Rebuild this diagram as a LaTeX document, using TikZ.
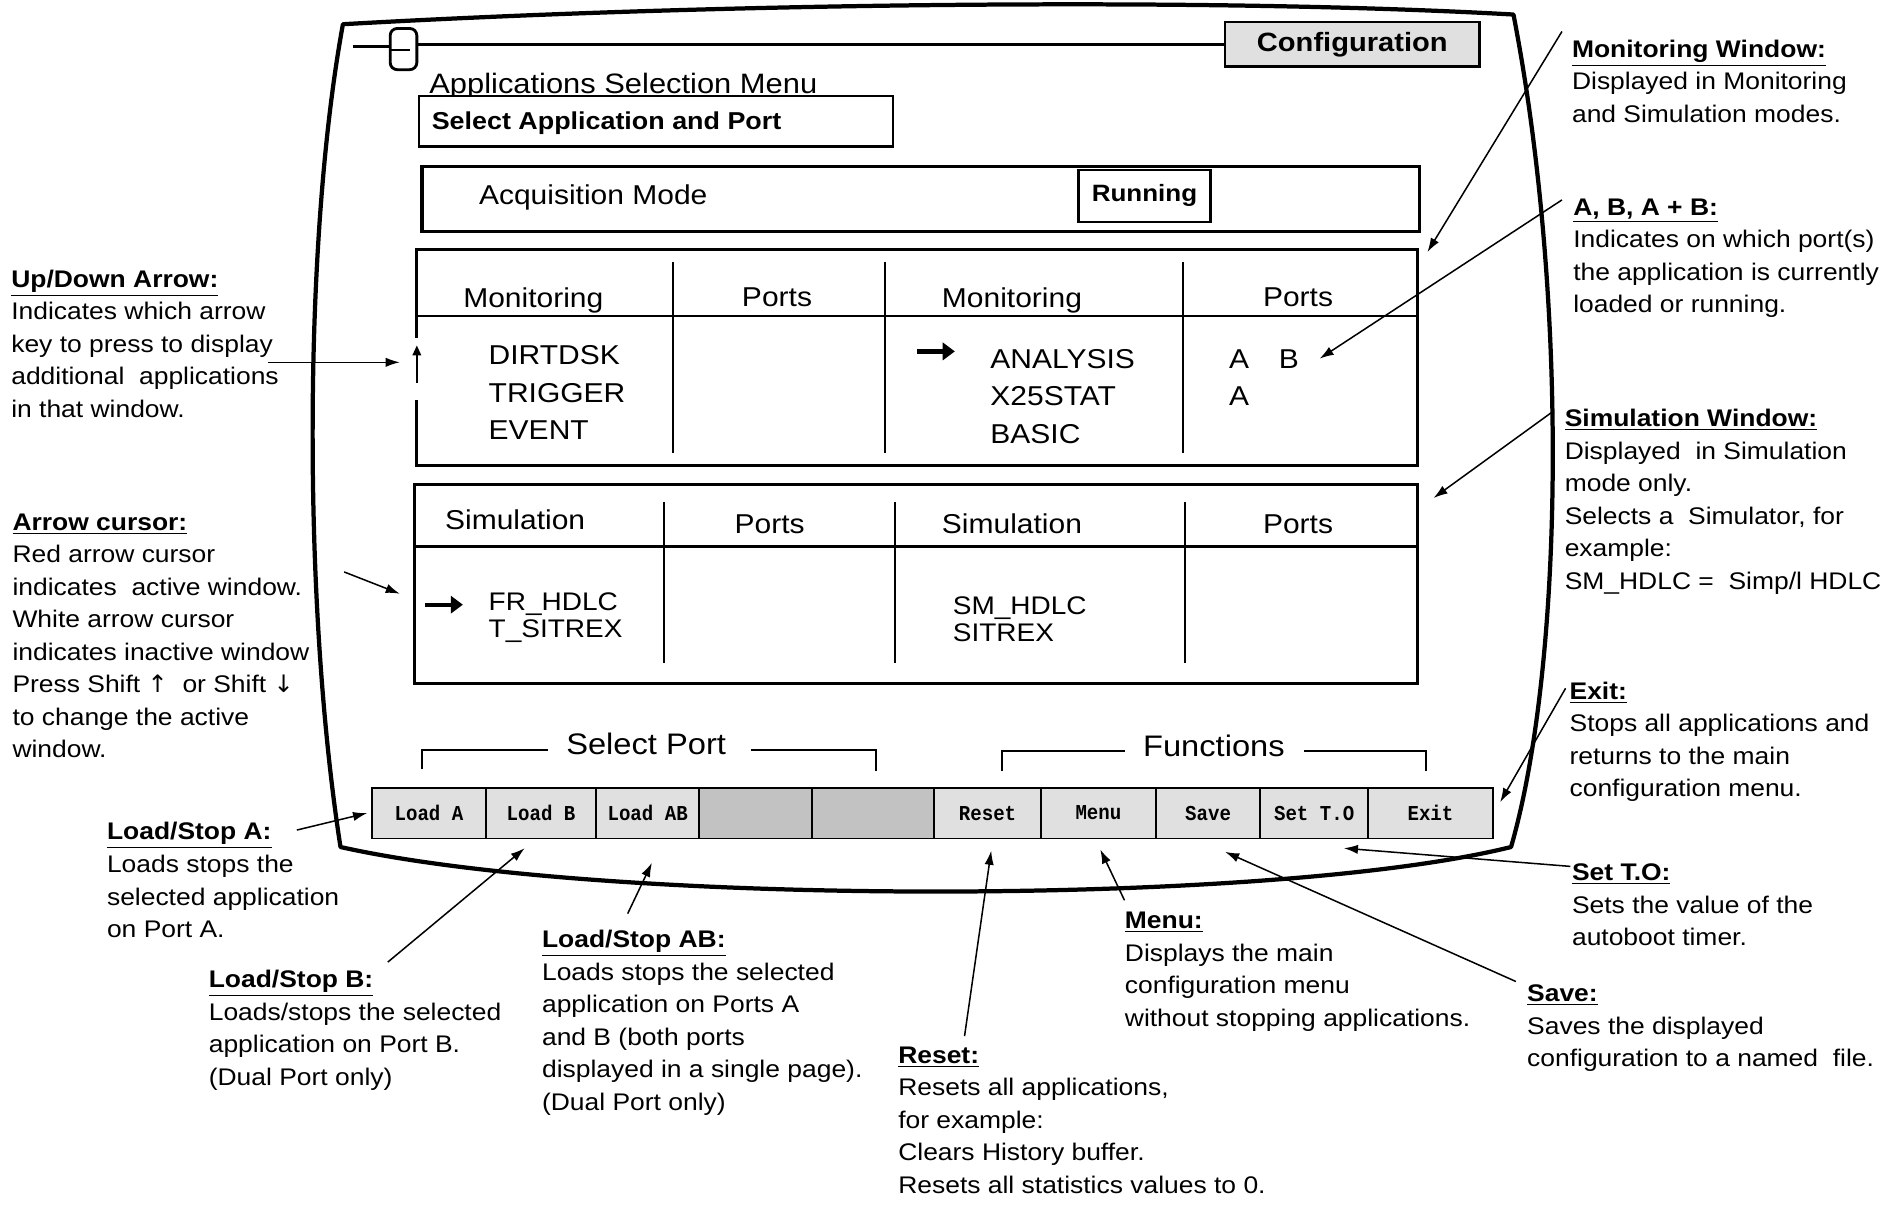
\documentclass[tikz,border=0pt]{standalone}
\usepackage{fontspec}
\setmainfont{Liberation Sans}[FakeStretch=1.1]
\newfontfamily\keyfont{Liberation Mono}[FakeStretch=0.9]
\newfontfamily\symfont{DejaVu Sans}
\usetikzlibrary{arrows.meta}

\newcommand\fsz[2]{\fontsize{#1}{#2}\selectfont}

\tikzset{
  outline/.style={line width=2.1pt, line join=round},
  panel/.style={line width=1.6pt},
  rule/.style={line width=1pt},
  callout/.style={line width=0.75pt, -{Latex[length=7pt,width=4.6pt]}},
  cursor/.style={line width=2.1pt, -{Triangle[length=6pt,width=8.5pt]}},
  note/.style={anchor=north west, inner sep=0pt, align=left, font=\fsz{11.9}{16.1}},
  scrtext/.style={anchor=base west, inner sep=0pt, font=\fsz{13.5}{16}},
  simitem/.style={anchor=base west, inner sep=0pt, font=\fsz{12.6}{15}},
  keycap/.style={draw, line width=0.9pt, fill=black!12, inner sep=0pt, outer sep=0pt,
     anchor=west, minimum height=25.2pt, font=\keyfont\bfseries\fsz{10.5}{12}},
  blankkey/.style={keycap, fill=black!24},
}

\begin{document}
\begin{tikzpicture}[x=0.6pt,y=-0.6pt]
\fill[white] (0,0) rectangle (1568,996);
\useasboundingbox (0,0) rectangle (1568,996);

% ---------- monitor outline ----------
\draw[outline] (283,20) .. controls (600,2) and (1000,-2) .. (1249,12)
   .. controls (1295,250) and (1290,550) .. (1247,699)
   .. controls (1050,748) and (500,748) .. (281,699)
   .. controls (250,500) and (250,200) .. cycle;

% ---------- title bar ----------
\node[draw, line width=1.2pt, fill=black!12, minimum width=126pt, minimum height=22.2pt,
      inner sep=0pt, font=\bfseries\fsz{13.1}{15}] (config) at (1116,36.5) {Configuration};
\node[draw, line width=1.4pt, rounded corners=3.5pt, minimum width=13.2pt, minimum height=20.4pt,
      inner sep=0pt, outer sep=0pt] (knob) at (333,40.5) {};
\coordinate (barstart) at (291,38.5);
\draw[line width=1.4pt] (barstart) -- (barstart -| knob.west);
\draw[line width=1.4pt] (knob.east |- config.west) -- (config.west);
\draw[line width=1.2pt] (knob.west) ++(0,1) -- ++(16,0);

% ---------- menu heading ----------
\node[anchor=base west, inner sep=0pt, font=\fsz{13.9}{16}] (menutitle) at (354,77) {Applications Selection Menu};
\node[draw, fill=white, line width=1.1pt, anchor=north west, minimum width=234.6pt,
      minimum height=25.2pt, inner sep=0pt] (selbox) at (345,78) {};
\node[anchor=base west, inner sep=0pt, font=\bfseries\fsz{12.1}{14}] (seltext) at (356,107) {Select Application and Port};

% ---------- acquisition mode ----------
\node[draw, panel, anchor=north west, minimum width=493.8pt, minimum height=32.4pt,
      inner sep=0pt] (acqbox) at (347,136) {};
\node[scrtext] (acqtext) at (395,169) {Acquisition Mode};
\node[draw, line width=1.1pt, minimum width=65.4pt, minimum height=25.8pt, inner sep=0pt,
      font=\bfseries\fsz{11.7}{14}] (running) at (944.5,161.5) {Running};

% ---------- monitoring window ----------
\coordinate (monA) at (344,279);
\coordinate (monB) at (344,330);
\draw[panel] (monA) -- (344,206) -- (1170,206) -- (1170,384) -- (344,384) -- (monB);
\draw[rule] (344,261) -- (1170,261);
\foreach \x in {555,730,976} \draw[rule] (\x,216) -- (\x,374);
\draw[line width=1pt, -{Triangle[length=5pt,width=4.2pt]}] (344,316) -- (344,285);
\node[scrtext] (mh1) at (382,254) {Monitoring};
\node[scrtext] (mh2) at (612,253) {Ports};
\node[scrtext] (mh3) at (777,254) {Monitoring};
\node[scrtext] (mh4) at (1042,253) {Ports};
\node[scrtext] (m1) at (403,301) {DIRTDSK};
\node[scrtext] (m2) at (403,332) {TRIGGER};
\node[scrtext] (m3) at (403,363) {EVENT};
\node[scrtext] (m4) at (817,304) {ANALYSIS};
\node[scrtext] (m5) at (817,335) {X25STAT};
\node[scrtext] (m6) at (817,366) {BASIC};
\node[scrtext] (pA1) at (1014,304) {A};
\node[scrtext] (pB1) at (1055,304) {B};
\node[scrtext] (pA2) at (1014,335) {A};
\coordinate (mcurA) at (757,290);
\coordinate (mcurB) at (788,290);
\draw[cursor] (mcurA) -- (mcurB);

% ---------- simulation window ----------
\draw[panel] (342,400) rectangle (1170,564);
\draw[rule] (342,451) -- (1170,451);
\foreach \x in {548,739,978} \draw[rule] (\x,414) -- (\x,547);
\node[scrtext] (sh1) at (367,437) {Simulation};
\node[scrtext] (sh2) at (606,440) {Ports};
\node[scrtext] (sh3) at (777,440) {Simulation};
\node[scrtext] (sh4) at (1042,440) {Ports};
\node[simitem] (s1) at (403,504) {FR\_HDLC};
\node[simitem] (s2) at (403,526) {T\_SITREX};
\node[simitem] (s3) at (786,507) {SM\_HDLC};
\node[simitem] (s4) at (786,529) {SITREX};
\coordinate (scurA) at (351,499);
\coordinate (scurB) at (382,499);
\draw[cursor] (scurA) -- (scurB);

% ---------- group brackets ----------
\node[anchor=base west, inner sep=0pt, font=\fsz{14.7}{17}] (selport) at (467,623) {Select Port};
\draw[rule] (348,635) -- (348,619) -- (452,619);
\draw[rule] (620,619) -- (723,619) -- (723,636);
\node[anchor=base west, inner sep=0pt, font=\fsz{14.7}{17}] (functions) at (943,624) {Functions};
\draw[rule] (827,636) -- (827,620) -- (928,620);
\draw[rule] (1076,620) -- (1177,620) -- (1177,636);

% ---------- function keys ----------
\node[keycap, minimum width=56.4pt] (kLoadA) at (307,671) {Load A};
\node[keycap, minimum width=54.6pt] (kLoadB) at (kLoadA.east) {Load B};
\node[keycap, minimum width=51pt] (kLoadAB) at (kLoadB.east) {Load AB};
\node[blankkey, minimum width=55.8pt] (kBlank1) at (kLoadAB.east) {};
\node[blankkey, minimum width=60.6pt] (kBlank2) at (kBlank1.east) {};
\node[keycap, minimum width=52.8pt] (kReset) at (kBlank2.east) {Reset};
\node[keycap, minimum width=57pt] (kMenu) at (kReset.east) {Menu};
\node[keycap, minimum width=51.6pt] (kSave) at (kMenu.east) {Save};
\node[keycap, minimum width=53.4pt] (kSetTO) at (kSave.east) {Set T.O};
\node[keycap, minimum width=61.8pt] (kExit) at (kSetTO.east) {Exit};

% ---------- notes ----------
\node[note] (nUpDown) at (9,222.5) {{\bfseries\underline{Up/Down Arrow:}}\\Indicates which arrow\\key to press to display\\additional\ \ applications\\in that window.};
\node[note] (nCursor) at (10,423.5) {{\bfseries\underline{Arrow cursor:}}\\Red arrow cursor\\indicates\ \ active window.\\White arrow cursor\\indicates inactive window\\Press Shift {\symfont ↑}\ \ or Shift {\symfont ↓}\\to change the active\\window.};
\node[note] (nLoadA) at (88,678.5) {{\bfseries\underline{Load/Stop A:}}\\Loads stops the\\selected application\\on Port A.};
\node[note] (nLoadB) at (172,800.5) {{\bfseries\underline{Load/Stop B:}}\\Loads/stops the selected\\application on Port B.\\(Dual Port only)};
\node[note] (nLoadAB) at (447,767.5) {{\bfseries\underline{Load/Stop AB:}}\\Loads stops the selected\\application on Ports A\\and B (both ports\\displayed in a single page).\\(Dual Port only)};
\node[note] (nReset) at (741,863.5) {{\bfseries\underline{Reset:}}\\Resets all applications,\\for example:\\Clears History buffer.\\Resets all statistics values to 0.};
\node[note] (nMenu) at (928,752.5) {{\bfseries\underline{Menu:}}\\Displays the main\\configuration menu\\without stopping applications.};
\node[note] (nSetTO) at (1297,712.5) {{\bfseries\underline{Set T.O:}}\\Sets the value of the\\autoboot timer.};
\node[note] (nSave) at (1260,812.5) {{\bfseries\underline{Save:}}\\Saves the displayed\\configuration to a named\ \ file.};
\node[note] (nMonWin) at (1297,32.5) {{\bfseries\underline{Monitoring Window:}}\\Displayed in Monitoring\\and Simulation modes.};
\node[note] (nAB) at (1298,163.5) {{\bfseries\underline{A, B, A + B:}}\\Indicates on which port(s)\\the application is currently\\loaded or running.};
\node[note] (nSimWin) at (1291,337.5) {{\bfseries\underline{Simulation Window:}}\\Displayed\ \ in Simulation\\mode only.\\Selects a\ \ Simulator, for\\example:\\SM\_HDLC =\ \ Simp/l HDLC};
\node[note] (nExit) at (1295,562.5) {{\bfseries\underline{Exit:}}\\Stops all applications and\\returns to the main\\configuration menu.};

% ---------- callout ends ----------
\coordinate (cUpDownA) at (221,299);   \coordinate (cUpDownB) at (330,299);
\coordinate (cCursorA) at (284,472);   \coordinate (cCursorB) at (330,490);
\coordinate (cLoadAA) at (245,685);    \coordinate (cLoadAB) at (303,671);
\coordinate (cLoadBA) at (320,794);    \coordinate (cLoadBB) at (433,700);
\coordinate (cLoadABA) at (518,754);   \coordinate (cLoadABB) at (538,712);
\coordinate (cResetA) at (796,855);    \coordinate (cResetB) at (818,702);
\coordinate (cMenuA) at (928,743);     \coordinate (cMenuB) at (908,701);
\coordinate (cSetTOA) at (1296,715);   \coordinate (cSetTOB) at (1109,700);
\coordinate (cSaveA) at (1251,810);    \coordinate (cSaveB) at (1011,703);
\coordinate (cMonA) at (1289,26);      \coordinate (cMonB) at (1178,208);
\coordinate (cABA) at (1289,165);      \coordinate (cABB) at (1089,296);
\coordinate (cSimA) at (1281,340);     \coordinate (cSimB) at (1183,411);
\coordinate (cExitA) at (1292,568);    \coordinate (cExitB) at (1238,662);

\foreach \n in {UpDown,Cursor,LoadA,LoadB,LoadAB,Reset,Menu,SetTO,Save,Mon,AB,Sim,Exit}
  \draw[callout] (c\n A) -- (c\n B);
\end{tikzpicture}
\end{document}
